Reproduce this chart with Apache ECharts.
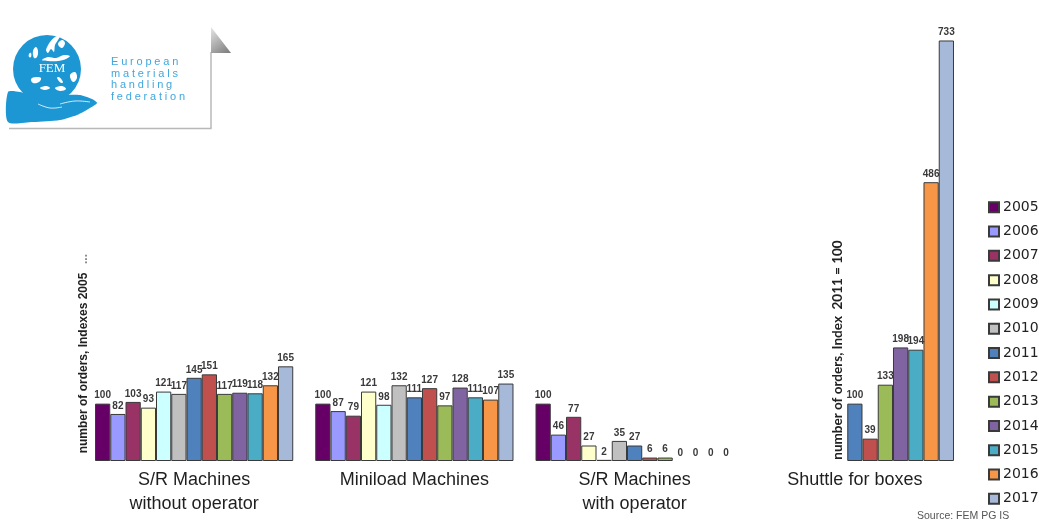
<!DOCTYPE html>
<html>
<head>
<meta charset="utf-8">
<script src="https://cdn.jsdelivr.net/npm/echarts@6/dist/echarts.min.js"></script>
<style>
  html, body { margin: 0; padding: 0; background: #ffffff; }
  #chart { width: 1039px; height: 531px; }
</style>
</head>
<body>
<div id="chart"></div>
<script>
// Order intake indexes per machine type, one bar per year
const years = ['2005', '2006', '2007', '2008', '2009', '2010', '2011',
               '2012', '2013', '2014', '2015', '2016', '2017'];
const categories = ['S/R Machines\nwithout operator', 'Miniload Machines',
                    'S/R Machines\nwith operator', 'Shuttle for boxes'];

// index 2005 = 100
const srWithoutOperator = [100, 82, 103, 93, 121, 117, 145, 151, 117, 119, 118, 132, 165];
const miniload          = [100, 87, 79, 121, 98, 132, 111, 127, 97, 128, 111, 107, 135];
const srWithOperator    = [100, 46, 77, 27, 2, 35, 27, 6, 6, 0, 0, 0, 0];
// index 2011 = 100 (no data before 2011)
const shuttle           = [null, null, null, null, null, null, 100, 39, 133, 198, 194, 486, 733];

const yearColors = ['#660066', '#9999ff', '#993366', '#ffffcc', '#ccffff', '#c0c0c0',
                    '#4f81bd', '#c0504d', '#9bbb59', '#8064a2', '#4bacc6', '#f79646', '#a7b9d9'];

const series = years.map((year, i) => ({
  name: year,
  type: 'bar',
  barGap: '0%',
  barCategoryGap: '10%',
  itemStyle: { color: yearColors[i], borderColor: '#3a3a3a', borderWidth: 1 },
  label: {
    show: true,
    position: 'top',
    distance: 3,
    fontFamily: 'Liberation Sans, Arial, sans-serif',
    fontSize: 10,
    fontWeight: 'bold',
    color: '#3a3a3a'
  },
  data: [srWithoutOperator[i], miniload[i], srWithOperator[i], shuttle[i]].map(v =>
    v === null ? '-' : (v === 0 ? { value: 0, itemStyle: { borderWidth: 0 } } : v))
}));

// Letter-spaced logo caption, one glyph at a time
const measureCtx = document.createElement('canvas').getContext('2d');
function spacedText(str, x0, y, font, spacing, fill) {
  measureCtx.font = font;
  const out = [];
  let x = x0;
  for (const ch of str) {
    out.push({ type: 'text', x: x, y: y,
      style: { text: ch, font: font, fill: fill, align: 'left', verticalAlign: 'middle' } });
    x += measureCtx.measureText(ch).width + spacing;
  }
  return out;
}

const logoBlue = '#1c97d4';
const white = '#ffffff';
const captionFont = '11px "Liberation Sans", Arial, sans-serif';
const captionColor = '#3fa7de';
const captionLines = ['European', 'materials', 'handling', 'federation'];

function land(points, smooth) {
  return { type: 'polygon', shape: { smooth: smooth, points: points }, style: { fill: white } };
}

const graphics = [
  // logo card with folded corner
  { type: 'rect', shape: { x: 9, y: 27, width: 202, height: 101 }, style: { fill: white } },
  { type: 'line', shape: { x1: 211, y1: 52, x2: 211, y2: 128.5 }, style: { stroke: '#b8b8b8', lineWidth: 1.5 } },
  { type: 'line', shape: { x1: 9, y1: 128.5, x2: 211.5, y2: 128.5 }, style: { stroke: '#b8b8b8', lineWidth: 1.5 } },
  { type: 'polygon', shape: { points: [[211, 27], [231, 53], [211, 53]] },
    style: { fill: new echarts.graphic.LinearGradient(0, 0, 1, 1, [
      { offset: 0, color: '#e6e6e6' }, { offset: 1, color: '#7a7a7a' }]) } },
  // globe with a sketch of Europe
  { type: 'circle', shape: { cx: 47, cy: 69, r: 34 }, style: { fill: logoBlue } },
  land([[46, 50], [50, 42], [55, 37], [60, 36], [58, 40], [55, 45], [54, 52], [51, 49], [48, 53]], 0.3),
  land([[58, 44], [62, 40], [65, 43], [62, 48]], 0.4),
  land([[33, 51], [36, 47], [38, 51], [37, 57], [34, 58]], 0.4),
  land([[29, 54], [31, 53], [31, 57], [29, 57]], 0.4),
  land([[42, 60], [48, 57], [56, 58], [64, 55], [70, 56], [66, 59], [58, 61], [48, 61]], 0.3),
  land([[31, 79], [36, 77], [41, 78], [39, 82], [33, 83]], 0.4),
  land([[57, 78], [59, 77], [63, 82], [61, 83]], 0.4),
  land([[70, 75], [75, 72], [77, 78], [73, 82]], 0.4),
  land([[40, 88], [46, 86], [50, 88], [45, 90]], 0.4),
  land([[55, 88], [62, 86], [66, 89], [60, 91]], 0.4),
  { type: 'text', x: 52, y: 69, style: { text: 'FEM', font: '13px "Liberation Serif", "DejaVu Serif", serif',
      fill: white, align: 'center', verticalAlign: 'middle' } },
  // hand holding the globe
  { type: 'polygon', shape: { smooth: 0.25, points: [[8, 92], [20, 92], [32, 96], [43, 100], [55, 98], [67, 95], [80, 95], [92, 99], [97, 103], [90, 108], [77, 115], [60, 120], [33, 122], [8, 122]] },
    style: { fill: logoBlue } },
  { type: 'polyline', shape: { smooth: 0.4, points: [[38, 104], [50, 108], [62, 107]] }, style: { stroke: white, lineWidth: 0.8 } },
  { type: 'polyline', shape: { smooth: 0.4, points: [[60, 104], [75, 101], [90, 102]] }, style: { stroke: white, lineWidth: 0.8 } },

  // value axis titles
  { type: 'text', x: 84, y: 363, rotation: Math.PI / 2,
    style: { text: 'number of orders, Indexes 2005', font: 'bold 12px "Liberation Sans", Arial, sans-serif',
      fill: '#222222', align: 'center', verticalAlign: 'middle' } },
  { type: 'text', x: 84, y: 259, rotation: Math.PI / 2,
    style: { text: '...', font: 'bold 12px "Liberation Sans", Arial, sans-serif',
      fill: '#8a8a8a', align: 'center', verticalAlign: 'middle' } },
  { type: 'text', x: 838, y: 350, rotation: Math.PI / 2,
    style: { text: 'number of orders, Index  2011 = 100', font: 'bold 13.5px Lato, "Open Sans", sans-serif',
      fill: '#222222', align: 'center', verticalAlign: 'middle' } },

  // source note
  { type: 'text', x: 917, y: 516,
    style: { text: 'Source: FEM PG IS', font: '10.5px "Liberation Sans", Arial, sans-serif',
      fill: '#555555', align: 'left', verticalAlign: 'middle' } }
];
captionLines.forEach((line, k) => {
  graphics.push(...spacedText(line, 111, 62 + k * 11.5, captionFont, 2.8, captionColor));
});

const chart = echarts.init(document.getElementById('chart'), null, { renderer: 'canvas' });
chart.setOption({
  animation: false,
  backgroundColor: '#ffffff',
  color: yearColors,
  grid: { left: 84, right: 74, top: 25, bottom: 70, containLabel: false },
  xAxis: {
    type: 'category',
    data: categories,
    axisLine: { show: false },
    axisTick: { show: false },
    axisLabel: {
      interval: 0,
      margin: 7,
      fontFamily: '"Liberation Sans", Arial, sans-serif',
      fontSize: 18,
      lineHeight: 24,
      color: '#1f1f1f'
    }
  },
  yAxis: { type: 'value', min: 0, max: 760, show: false, splitLine: { show: false } },
  legend: {
    data: years,
    orient: 'vertical',
    left: 988,
    top: 200,
    padding: 0,
    itemWidth: 10,
    itemHeight: 10,
    itemGap: 9.8,
    icon: 'rect',
    textStyle: { fontFamily: '"DejaVu Sans", sans-serif', fontSize: 14, lineHeight: 14.5, color: '#222222', padding: [0, 0, 0, -1] }
  },
  graphic: { elements: graphics },
  series: series
});
</script>
</body>
</html>
